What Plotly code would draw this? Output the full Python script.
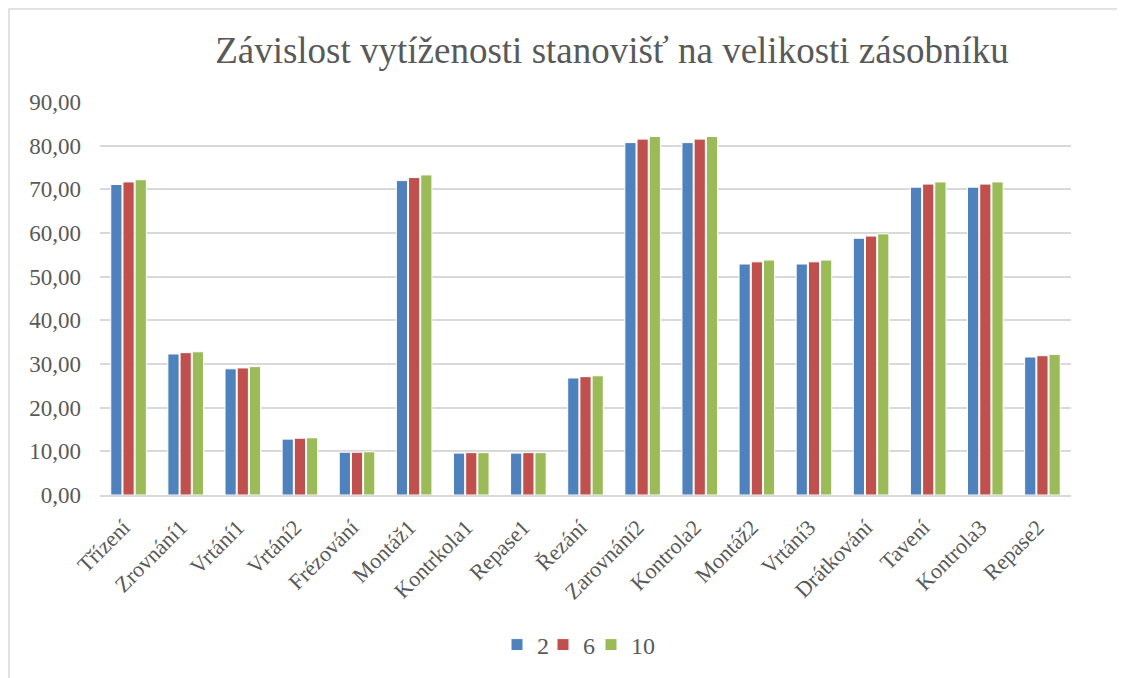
import plotly.graph_objects as go

categories = ["Třízení", "Zrovnání1", "Vrtání1", "Vrtání2", "Frézování", "Montáž1",
              "Kontrkola1", "Repase1", "Řezání", "Zarovnání2", "Kontrola2", "Montáž2",
              "Vrtání3", "Drátkování", "Tavení", "Kontrola3", "Repase2"]
series_names = ["2", "6", "10"]
values_2 = [71.1, 32.3, 28.9, 12.8, 9.8, 72.0, 9.6, 9.6, 26.8, 80.7, 80.7, 52.9, 52.9, 58.8, 70.5, 70.5, 31.6]
values_6 = [71.7, 32.6, 29.1, 13.0, 9.8, 72.7, 9.7, 9.7, 27.1, 81.5, 81.5, 53.4, 53.4, 59.3, 71.2, 71.2, 31.9]
values_10 = [72.2, 32.8, 29.4, 13.1, 9.9, 73.3, 9.7, 9.7, 27.3, 82.1, 82.1, 53.8, 53.8, 59.8, 71.7, 71.7, 32.2]
colors = ["#4F81BD", "#C0504D", "#9BBB59"]
y_ticks = [0, 10, 20, 30, 40, 50, 60, 70, 80, 90]
y_tick_labels = ["0,00", "10,00", "20,00", "30,00", "40,00", "50,00", "60,00", "70,00", "80,00", "90,00"]

FONT = "Liberation Serif"
TXT = "#595959"

# page body has an 8px margin; figure coordinates are screen - 8
L, R, T, B = 92, 62, 94, 191
PW, PH = 1125 - L - R, 678 - T - B

legend_ids = ["legend", "legend2", "legend3"]
legend_left_px = [489, 535, 583]   # figure px of each legend entry's left edge

fig = go.Figure()
for name, vals, col, lid in zip(series_names, [values_2, values_6, values_10], colors, legend_ids):
    fig.add_trace(go.Bar(x=categories, y=vals, name=name, legend=lid, showlegend=True,
                         marker=dict(color=col, line=dict(color="white", width=1))))

legend_common = dict(orientation="h", xanchor="left", yanchor="middle",
                     y=(678 - B - 637) / PH, bgcolor="rgba(0,0,0,0)",
                     font=dict(family=FONT, size=24, color=TXT), itemwidth=30)
legends = {lid: dict(legend_common, x=(px - L) / PW) for lid, px in zip(legend_ids, legend_left_px)}

fig.update_layout(
    width=1125, height=678,
    showlegend=True,
    barmode="group", bargap=0.36, bargroupgap=0.08,
    paper_bgcolor="white", plot_bgcolor="white",
    margin=dict(l=L, r=R, t=T, b=B, autoexpand=False),
    title=dict(text="Závislost vytíženosti stanovišť na velikosti zásobníku",
               x=604 / 1125, xanchor="center", y=1 - 42 / 678, yanchor="middle",
               font=dict(family=FONT, size=37, color=TXT)),
    font=dict(family=FONT, color=TXT),
    xaxis=dict(tickangle=-45, tickfont=dict(family=FONT, size=22, color=TXT),
               showline=True, linecolor="#D9D9D9", linewidth=1.5, ticks="",
               showgrid=False, automargin=False,
               ticklabelstandoff=9, ticklabelshift=-5),
    yaxis=dict(range=[0, 90], tickvals=y_ticks, ticktext=y_tick_labels,
               tickfont=dict(family=FONT, size=23, color=TXT),
               showgrid=True, gridcolor="#D9D9D9", gridwidth=1.5,
               zeroline=False, ticks="", ticklabelstandoff=18, automargin=False),
    shapes=[dict(type="rect", xref="paper", yref="paper",
                 x0=(1 - L) / PW, x1=(1140 - L) / PW,
                 y0=(678 - B - 700) / PH, y1=(678 - B - 1) / PH,
                 line=dict(color="#D9D9D9", width=1.5))],
    **legends,
)

fig.write_html("out.html")
